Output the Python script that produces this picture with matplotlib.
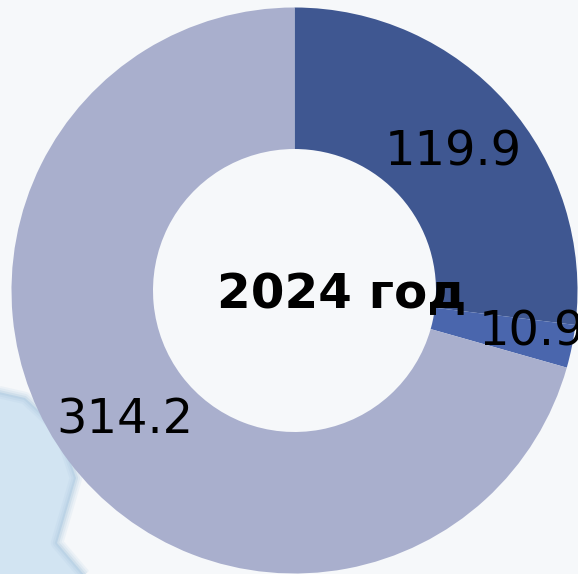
import matplotlib
matplotlib.use("Agg")
import matplotlib.pyplot as plt
from matplotlib.patches import Polygon

values = [119.9, 10.9, 314.2]
labels = ["119.9", "10.9", "314.2"]
colors = ["#3f5791", "#4a66ad", "#a9afcd"]
title = "2024 год"

W, H = 578, 574
fig = plt.figure(figsize=(W / 100, H / 100), dpi=100, facecolor="#f6f8fa")

bg = fig.add_axes([0, 0, 1, 1])
bg.set_xlim(0, W)
bg.set_ylim(H, 0)
bg.axis("off")

# soft backdrop: blurred water area at the lower left
shore = [(-10, 390), (25, 398), (60, 430), (76, 478), (57, 543), (92, 584), (-10, 584)]
bg.add_patch(Polygon(shore, closed=True, facecolor="#d2e4f2", edgecolor="none"))
for lw, a in [(9, 0.12), (6, 0.16), (3, 0.25)]:
    bg.add_patch(Polygon(shore, closed=True, facecolor="none", edgecolor="#a3c2da",
                         lw=lw, alpha=a, joinstyle="round"))

cx, cy, R = 294.5, 290.5, 283
ax = fig.add_axes([(cx - R) / W, 1 - (cy + R) / H, 2 * R / W, 2 * R / H])
ax.axis("off")
ax.pie(values, colors=colors, startangle=90, counterclock=False, radius=1,
       wedgeprops=dict(width=0.5, linewidth=0), frame=False)
ax.set_xlim(-1, 1)
ax.set_ylim(-1, 1)

fs = 34.5
fig.text(453.5 / W, 1 - 152.5 / H, labels[0], ha="center", va="center", fontsize=fs, color="black")
fig.text(531.5 / W, 1 - 332.5 / H, labels[1], ha="center", va="center", fontsize=fs, color="black")
fig.text(125 / W, 1 - 419.5 / H, labels[2], ha="center", va="center", fontsize=fs, color="black")
fig.text(341.5 / W, 1 - 294.5 / H, title, ha="center", va="center", fontsize=34.8, fontweight="bold", color="black")

fig.savefig("out.png", dpi=100, facecolor=fig.get_facecolor())
